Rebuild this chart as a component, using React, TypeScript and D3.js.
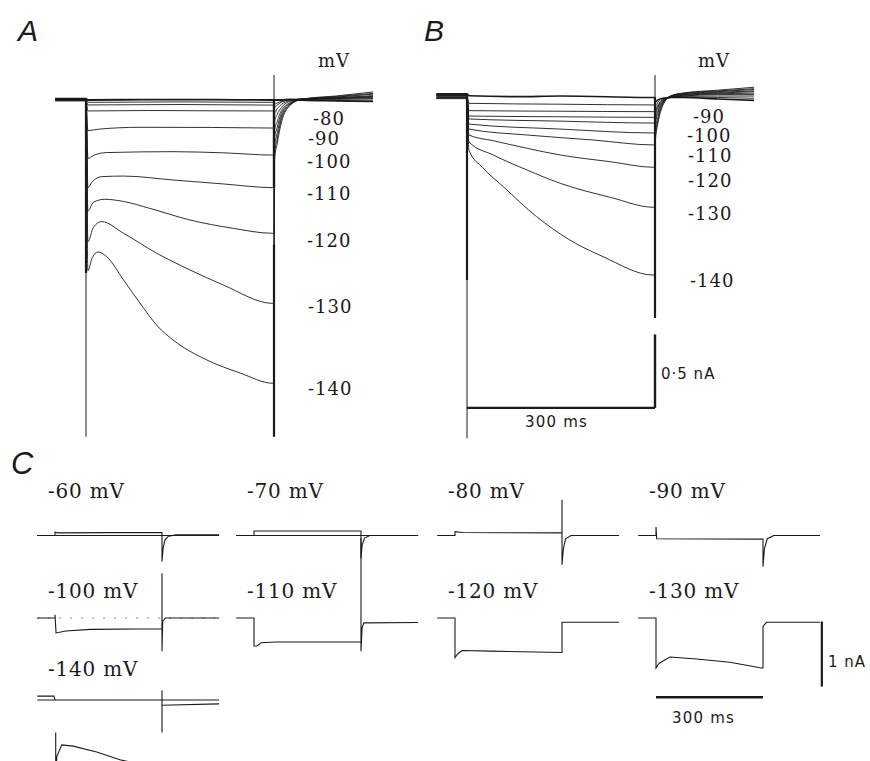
import * as d3 from "d3";

type Pt = [number, number];

// time in ms (step from 0 to 300), current in nA
const PRE_MS = -49;
const tailT = [300.5, 305, 312, 325, 345, 400, 458];

// ---------- A ----------
const aVolts = [-50, -60, -70, -80, -90, -100, -110, -120, -130, -140];
const aLabels = ["-80", "-90", "-100", "-110", "-120", "-130", "-140"];
const aHold = [0.01, 0.006, 0.0, -0.006, 0.008, 0.003, -0.004, 0.005, -0.002, 0.009];
const aStep: Pt[][] = [
  [[3, 0.0], [100, 0.003], [200, 0.002], [298, 0.0]],
  [[3, -0.016], [150, -0.013], [298, -0.016]],
  [[3, -0.034], [150, -0.031], [298, -0.035]],
  [[3, -0.075], [100, -0.072], [200, -0.074], [298, -0.075]],
  [[3, -0.21], [20, -0.2], [86, -0.187], [200, -0.188], [298, -0.192]],
  [[3, -0.4], [12, -0.38], [33, -0.36], [139, -0.354], [220, -0.362], [298, -0.377]],
  [[3, -0.6], [10, -0.56], [25, -0.525], [60, -0.521], [139, -0.548], [219, -0.575], [298, -0.6]],
  [[3, -0.76], [12, -0.7], [30, -0.68], [60, -0.695], [100, -0.74], [166, -0.822], [235, -0.879], [298, -0.913]],
  [[3, -0.97], [12, -0.87], [25, -0.833], [60, -0.913], [113, -1.05], [166, -1.164], [219, -1.267], [298, -1.393]],
  [[3, -1.17], [10, -1.08], [19, -1.041], [33, -1.073], [60, -1.233], [86, -1.39], [115, -1.553], [139, -1.644], [193, -1.781], [246, -1.87], [298, -1.94]],
];
const aTail: number[][] = [
  [0.0, 0.0, 0.0, 0.004, 0.0, -0.005, -0.01],
  [-0.03, -0.02, -0.01, 0.0, 0.004, 0.0, 0.0],
  [-0.05, -0.035, -0.015, 0.0, 0.006, 0.006, 0.01],
  [-0.09, -0.06, -0.03, -0.005, 0.006, 0.01, 0.015],
  [-0.15, -0.1, -0.05, -0.01, 0.008, 0.012, 0.02],
  [-0.21, -0.15, -0.07, -0.02, 0.006, 0.014, 0.025],
  [-0.27, -0.19, -0.09, -0.025, 0.004, 0.016, 0.03],
  [-0.33, -0.23, -0.11, -0.03, 0.004, 0.02, 0.04],
  [-0.38, -0.27, -0.13, -0.035, 0.005, 0.024, 0.045],
  [-0.42, -0.3, -0.15, -0.04, 0.006, 0.028, 0.055],
];

// ---------- B ----------
const bVolts = [-60, -70, -80, -85, -90, -100, -110, -120, -130, -140];
const bLabels = ["-90", "-100", "-110", "-120", "-130", "-140"];
const bHold = [0.025, 0.015, 0.005, -0.005, 0.02, 0.01, 0.0, 0.018, -0.008, 0.012];
const bStep: Pt[][] = [
  [[3, 0.012], [80, 0.006], [150, 0.01], [298, 0.0]],
  [[3, -0.04], [150, -0.046], [298, -0.051]],
  [[3, -0.09], [150, -0.094], [298, -0.097]],
  [[3, -0.127], [150, -0.132], [298, -0.136]],
  [[3, -0.147], [150, -0.162], [298, -0.175]],
  [[3, -0.182], [148, -0.216], [298, -0.243]],
  [[3, -0.216], [96, -0.257], [201, -0.291], [298, -0.325]],
  [[3, -0.257], [42, -0.296], [96, -0.348], [149, -0.394], [229, -0.44], [298, -0.478]],
  [[3, -0.303], [42, -0.394], [96, -0.497], [149, -0.588], [229, -0.684], [298, -0.752]],
  [[3, -0.36], [25, -0.48], [58, -0.611], [111, -0.816], [164, -0.976], [217, -1.09], [297, -1.216]],
];
const bTail: number[][] = [
  [-0.03, -0.015, -0.005, 0.0, 0.0, -0.01, -0.02],
  [-0.06, -0.03, -0.01, 0.0, 0.005, 0.0, -0.005],
  [-0.09, -0.05, -0.015, 0.0, 0.01, 0.01, 0.01],
  [-0.11, -0.06, -0.02, 0.0, 0.01, 0.02, 0.02],
  [-0.13, -0.07, -0.025, 0.005, 0.015, 0.025, 0.03],
  [-0.16, -0.09, -0.03, 0.005, 0.02, 0.03, 0.04],
  [-0.19, -0.1, -0.035, 0.005, 0.02, 0.035, 0.045],
  [-0.23, -0.13, -0.04, 0.01, 0.025, 0.04, 0.055],
  [-0.27, -0.15, -0.05, 0.01, 0.03, 0.045, 0.06],
  [-0.3, -0.17, -0.06, 0.01, 0.03, 0.05, 0.07],
];

// ---------- C (single sweeps, NaN = gap in the trace) ----------
const cLabels = ["-60 mV", "-70 mV", "-80 mV", "-90 mV", "-100 mV", "-110 mV", "-120 mV", "-130 mV", "-140 mV"];
const cRef = ["solid", "solid", "none", "none", "dash", "none", "none", "none", "solid"];
const cSweeps: Pt[][] = [
  [[-50, 0], [0, 0], [0, 0.05], [8, 0.04], [150, 0.045], [300, 0.045], [300, -0.4], [303, -0.2], [308, -0.07], [318, -0.01], [340, 0.01], [460, 0.01]],
  [[-50, 0], [0, 0], [0, 0.07], [300, 0.07], [300, -0.35], [303, -0.15], [310, -0.04], [325, 0], [460, 0]],
  [[-50, 0], [0, 0], [0, 0.06], [20, 0.045], [300, 0.04], [300, 0.55], [300, -0.45], [304, -0.2], [310, -0.05], [325, 0], [460, 0]],
  [[-50, 0], [0, 0], [0, 0.13], [2, -0.05], [300, -0.055], [300, -0.48], [304, -0.2], [312, -0.05], [330, 0], [460, 0]],
  [[-50, 0], [0, 0], [0, 0.05], [3, -0.23], [30, -0.2], [100, -0.175], [300, -0.165], [300, 0.69], [300, -0.51], [302, -0.05], [310, 0], [460, 0]],
  [[-50, 0], [0, 0], [0, -0.43], [8, -0.43], [20, -0.38], [60, -0.37], [300, -0.37], [300, 1.23], [300, -0.51], [303, -0.15], [308, -0.075], [460, -0.07]],
  [[-50, 0], [0, 0], [0, -0.61], [8, -0.55], [20, -0.5], [100, -0.51], [300, -0.53], [300, -0.065], [460, -0.065]],
  [[-50, 0], [0, 0], [0, -0.77], [8, -0.7], [39, -0.6], [114, -0.63], [207, -0.68], [296, -0.77], [300, -0.77], [300, -0.13], [310, -0.066], [460, -0.066]],
  [[-50, 0.06], [-3, 0.06], [0, 0], [0, NaN], [2, -0.5], [2, -1.3], [5, -0.87], [19, -0.69], [51, -0.71], [117, -0.8], [182, -0.92], [250, -1.0], [300, -1.06], [300, NaN], [300, -0.5], [300, 0.15], [300, -0.08], [460, -0.06]],
];

const serif = "'DejaVu Serif', 'Liberation Serif', serif";
const sans = "'DejaVu Sans', 'Liberation Sans', sans-serif";
const ink = "#1a1a1a";

export default function App() {
  const W = 870;
  const H = 761;

  const xA = d3.scaleLinear().domain([0, 300]).range([86, 274]);
  const yA = d3.scaleLinear().domain([0, -1]).range([100, 246]);
  const xB = d3.scaleLinear().domain([0, 300]).range([467, 655]);
  const yB = d3.scaleLinear().domain([0, -1]).range([97.5, 243.5]);

  const family = (
    x: d3.ScaleLinear<number, number>,
    y: d3.ScaleLinear<number, number>,
    hold: number[],
    steps: Pt[][],
    tails: number[][]
  ) =>
    steps.map((s, i) => {
      const pts: Pt[] = [[PRE_MS, hold[i]], [0, hold[i]], ...s, [300, s[s.length - 1][1]]];
      tailT.forEach((t, j) => pts.push([t, tails[i][j]]));
      const line = d3
        .line<Pt>()
        .x((d) => x(d[0]))
        .y((d) => y(d[1]))
        .curve(d3.curveMonotoneX);
      return line(pts) as string;
    });

  const aPaths = family(xA, yA, aHold, aStep, aTail);
  const bPaths = family(xB, yB, bHold, bStep, bTail);

  // vertical step markers: [t, I top, I bottom, width]
  const aVert: [number, number, number, number][] = [
    [0, 0, -2.306, 1],
    [0, 0, -1.185, 2.2],
    [300, 0.171, -2.306, 1],
    [300, 0, -0.6, 2.4],
    [300, -0.99, -2.306, 2.2],
  ];
  const bVert: [number, number, number, number][] = [
    [0, 0, -2.334, 1],
    [0, 0, -1.25, 2.2],
    [300, 0.154, -1.51, 1],
    [300, 0, -1.51, 2.2],
  ];

  const aLabelY = [125, 145, 168, 200, 247, 313, 395];
  const aLabelX = [313, 308, 307, 307, 307, 308, 308];
  const bLabelY = [123, 142, 162, 187, 220, 287];
  const bLabelX = [693, 687, 688, 688, 688, 690];

  const cColX = [55, 254, 455, 656];
  const cRowY = [535.5, 618, 700];
  const cLabelRowY = [498, 598, 676];
  const cells = cSweeps.map((pts, i) => {
    const row = Math.floor(i / 4);
    const col = i % 4;
    const x = d3.scaleLinear().domain([0, 300]).range([cColX[col], cColX[col] + 107]);
    const y = d3.scaleLinear().domain([0, -1]).range([cRowY[row], cRowY[row] + 65]);
    const line = d3
      .line<Pt>()
      .defined((d) => !Number.isNaN(d[1]))
      .x((d) => x(d[0]))
      .y((d) => y(d[1]));
    return { x, y, row, col, d: line(pts) as string };
  });
  const cBar = cells[7];

  return (
    <svg
      width={W}
      height={H}
      viewBox={`0 0 ${W} ${H}`}
      style={{ position: "absolute", left: 0, top: 0, background: "#fff" }}
    >
      <rect width={W} height={H} fill="#fff" />

      {/* panel letters */}
      <text x={18} y={41} fontFamily="'Liberation Sans', Arial, sans-serif" fontStyle="italic" fontSize={30} fill={ink}>A</text>
      <text x={424} y={41} fontFamily="'Liberation Sans', Arial, sans-serif" fontStyle="italic" fontSize={30} fill={ink}>B</text>
      <text x={11} y={474} fontFamily="'Liberation Sans', Arial, sans-serif" fontStyle="italic" fontSize={31} fill={ink}>C</text>

      {/* ---- A ---- */}
      <g>
        {aVert.map(([t, i1, i2, w], k) => (
          <line key={k} x1={xA(t)} x2={xA(t)} y1={yA(i1)} y2={yA(i2)} stroke={ink} strokeWidth={w} />
        ))}
        {aPaths.map((d, i) => (
          <path key={aVolts[i]} d={d} fill="none" stroke={ink} strokeWidth={i === 0 ? 1.8 : 0.9} />
        ))}
        <text x={318} y={67} fontFamily={serif} fontSize={18} fill={ink} letterSpacing={1}>mV</text>
        {aLabels.map((l, i) => (
          <text key={l} x={aLabelX[i]} y={aLabelY[i]} fontFamily={serif} fontSize={18} letterSpacing={1} fill={ink}>{l}</text>
        ))}
      </g>

      {/* ---- B ---- */}
      <g>
        {bVert.map(([t, i1, i2, w], k) => (
          <line key={k} x1={xB(t)} x2={xB(t)} y1={yB(i1)} y2={yB(i2)} stroke={ink} strokeWidth={w} />
        ))}
        {bPaths.map((d, i) => (
          <path key={bVolts[i]} d={d} fill="none" stroke={ink} strokeWidth={i === 0 ? 1.6 : 0.9} />
        ))}
        <text x={698} y={67} fontFamily={serif} fontSize={18} fill={ink} letterSpacing={1}>mV</text>
        {bLabels.map((l, i) => (
          <text key={l} x={bLabelX[i]} y={bLabelY[i]} fontFamily={serif} fontSize={18} letterSpacing={1} fill={ink}>{l}</text>
        ))}
        {/* scale bars: 0.5 nA, 300 ms */}
        <line x1={xB(300)} x2={xB(300)} y1={yB(-1.623)} y2={yB(-2.126)} stroke={ink} strokeWidth={2.4} />
        <line x1={xB(0)} x2={xB(300)} y1={yB(-2.126)} y2={yB(-2.126)} stroke={ink} strokeWidth={2.4} />
        <text x={661} y={379} fontFamily={sans} fontSize={15} letterSpacing={1} fill={ink}>0·5 nA</text>
        <text x={525} y={427} fontFamily={sans} fontSize={15} letterSpacing={1.2} fill={ink}>300 ms</text>
      </g>

      {/* ---- C ---- */}
      <g>
        {cells.map((c, i) => (
          <g key={cLabels[i]}>
            <text
              x={cColX[c.col] - 7}
              y={cLabelRowY[c.row]}
              fontFamily={serif}
              fontSize={20}
              letterSpacing={0.8}
              fill={ink}
            >
              {cLabels[i]}
            </text>
            {cRef[i] !== "none" && (
              <line
                x1={c.x(-50)}
                x2={c.x(460)}
                y1={c.y(0)}
                y2={c.y(0)}
                stroke={cRef[i] === "dash" ? "#777" : ink}
                strokeWidth={cRef[i] === "dash" ? 0.9 : 1}
                strokeDasharray={cRef[i] === "dash" ? "2 9" : undefined}
              />
            )}
            <path d={c.d} fill="none" stroke={ink} strokeWidth={1.1} />
          </g>
        ))}
        {/* scale bars: 1 nA, 300 ms */}
        <line x1={cBar.x(465)} x2={cBar.x(465)} y1={cBar.y(-0.055)} y2={cBar.y(-1.055)} stroke={ink} strokeWidth={2.2} />
        <line x1={cBar.x(0)} x2={cBar.x(300)} y1={cBar.y(-1.22)} y2={cBar.y(-1.22)} stroke={ink} strokeWidth={2.6} />
        <text x={828} y={667} fontFamily={sans} fontSize={15} letterSpacing={1} fill={ink}>1 nA</text>
        <text x={672} y={723} fontFamily={sans} fontSize={15} letterSpacing={1.2} fill={ink}>300 ms</text>
      </g>
    </svg>
  );
}
